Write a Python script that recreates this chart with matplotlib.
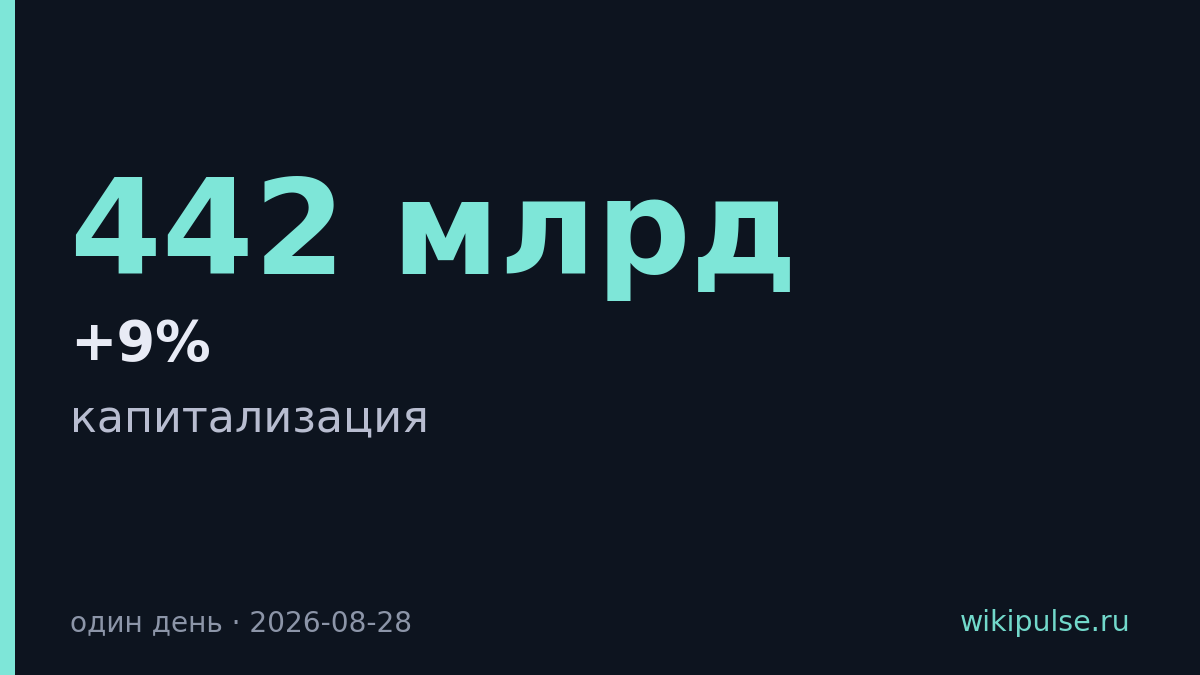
import matplotlib
matplotlib.use("Agg")
import matplotlib.pyplot as plt
from matplotlib.patches import Rectangle

# Data / text content
value_text = "442 млрд"
change_text = "+9%"
label_text = "капитализация"
footer_left = "один день · 2026-08-28"
footer_right = "wikipulse.ru"

BG = "#0d141f"
ACCENT = "#7ee6d8"
W, H = 1200, 675

plt.rcParams['font.family'] = ['DejaVu Sans']
fig = plt.figure(figsize=(12, 6.75), dpi=100, facecolor=BG)

def fx(px):
    return px / W

def fy(py):
    return 1 - py / H

fig.patches.append(Rectangle((0, 0), fx(15), 1, transform=fig.transFigure,
                             facecolor=ACCENT, edgecolor='none'))

fig.text(fx(70), fy(274), value_text, color=ACCENT, fontsize=95,
         fontweight='bold', va='baseline', ha='left')
fig.text(fx(70), fy(360), change_text, color="#e8ebf5", fontsize=40,
         fontweight='bold', va='baseline', ha='left')
fig.text(fx(70), fy(432), label_text, color="#b8bdd0", fontsize=32,
         va='baseline', ha='left')
fig.text(fx(70), fy(631), footer_left, color="#8c95a8", fontsize=20.2,
         va='baseline', ha='left')
fig.text(fx(1131), fy(631), footer_right, color="#72d9cb", fontsize=20.5,
         va='baseline', ha='right')

fig.savefig("out.png", dpi=100, facecolor=BG)
